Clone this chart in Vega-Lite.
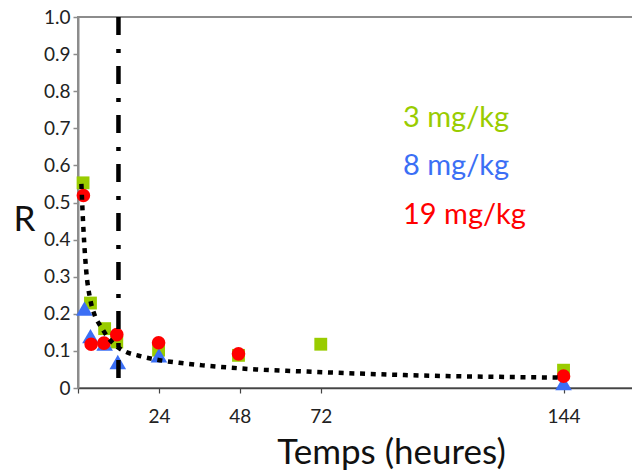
{
  "$schema": "https://vega.github.io/schema/vega-lite/v6.json",
  "width": 555,
  "height": 371,
  "autosize": "none",
  "padding": {"left": 78, "top": 17, "right": 0, "bottom": 82},
  "background": "white",
  "config": {
    "view": {"stroke": "#8c8c8c", "strokeWidth": 2},
    "font": "Lato",
    "axisX": {
      "labelOverlap": false,
      "grid": false,
      "domainColor": "#444", "domainWidth": 1.5,
      "tickColor": "#444", "tickSize": 5, "tickWidth": 1.2,
      "labelFont": "Lato", "labelFontSize": 19, "labelColor": "#222",
      "labelPadding": 14,
      "titleFont": "Lato", "titleFontSize": 35, "titleFontWeight": "normal",
      "titleColor": "#111",
      "titleX": 313, "titleY": 75, "titleAlign": "center", "titleBaseline": "alphabetic"
    },
    "axisY": {
      "labelOverlap": false,
      "grid": false,
      "domainColor": "#8c8c8c", "domainWidth": 2,
      "tickColor": "#8c8c8c", "tickSize": 5, "tickWidth": 1.5,
      "labelFont": "Lato", "labelFontSize": 19, "labelColor": "#222",
      "labelPadding": 3,
      "titleFont": "Lato", "titleFontSize": 35, "titleFontWeight": "normal",
      "titleColor": "#111",
      "titleAngle": 0, "titleX": -54, "titleY": 213,
      "titleAlign": "center", "titleBaseline": "alphabetic"
    }
  },
  "datasets": {
    "points": [
      {"t": 1.5, "r": 0.553, "dose": "3 mg/kg"},
      {"t": 3.7, "r": 0.229, "dose": "3 mg/kg"},
      {"t": 7.9, "r": 0.16, "dose": "3 mg/kg"},
      {"t": 11.5, "r": 0.124, "dose": "3 mg/kg"},
      {"t": 23.9, "r": 0.102, "dose": "3 mg/kg"},
      {"t": 47.6, "r": 0.088, "dose": "3 mg/kg"},
      {"t": 72, "r": 0.118, "dose": "3 mg/kg"},
      {"t": 144, "r": 0.048, "dose": "3 mg/kg"},
      {"t": 1.9, "r": 0.214, "dose": "8 mg/kg"},
      {"t": 3.7, "r": 0.14, "dose": "8 mg/kg"},
      {"t": 7.9, "r": 0.12, "dose": "8 mg/kg"},
      {"t": 11.8, "r": 0.07, "dose": "8 mg/kg"},
      {"t": 24, "r": 0.088, "dose": "8 mg/kg"},
      {"t": 144, "r": 0.013, "dose": "8 mg/kg"},
      {"t": 1.6, "r": 0.519, "dose": "19 mg/kg"},
      {"t": 3.9, "r": 0.118, "dose": "19 mg/kg"},
      {"t": 7.7, "r": 0.121, "dose": "19 mg/kg"},
      {"t": 11.5, "r": 0.144, "dose": "19 mg/kg"},
      {"t": 23.9, "r": 0.122, "dose": "19 mg/kg"},
      {"t": 47.6, "r": 0.092, "dose": "19 mg/kg"},
      {"t": 144, "r": 0.032, "dose": "19 mg/kg"}
    ],
    "curve": [
      {"t": 1.0, "r": 0.55},
      {"t": 1.6, "r": 0.43},
      {"t": 2.4, "r": 0.32},
      {"t": 3.7, "r": 0.236},
      {"t": 5, "r": 0.195},
      {"t": 6.9, "r": 0.164},
      {"t": 9, "r": 0.135},
      {"t": 11.8, "r": 0.11},
      {"t": 14.3, "r": 0.097},
      {"t": 18, "r": 0.087},
      {"t": 24.2, "r": 0.075},
      {"t": 30, "r": 0.068},
      {"t": 37, "r": 0.061},
      {"t": 45, "r": 0.055},
      {"t": 52.8, "r": 0.05},
      {"t": 65.7, "r": 0.045},
      {"t": 80, "r": 0.04},
      {"t": 105, "r": 0.033},
      {"t": 125, "r": 0.03},
      {"t": 143, "r": 0.028}
    ],
    "marker": [
      {"t": 12, "r": 1.0, "r_bottom": 0.013}
    ]
  },
  "encoding": {
    "x": {
      "field": "t", "type": "quantitative",
      "scale": {"domain": [0, 164.6], "nice": false, "zero": false},
      "axis": {
        "values": [0, 24, 48, 72, 144],
        "labelExpr": "datum.value == 0 ? '' : datum.label",
        "title": "Temps (heures)"
      }
    },
    "y": {
      "field": "r", "type": "quantitative",
      "scale": {"domain": [0, 1], "nice": false},
      "axis": {
        "values": [0, 0.1, 0.2, 0.3, 0.4, 0.5, 0.6, 0.7, 0.8, 0.9, 1.0],
        "labelOverlap": false,
        "labelExpr": "datum.value == 0 ? '0' : format(datum.value, '.1f')",
        "title": "R"
      }
    }
  },
  "layer": [
    {
      "data": {"name": "points"},
      "mark": {"type": "point", "filled": true, "opacity": 1},
      "encoding": {
        "color": {
          "field": "dose", "type": "nominal",
          "scale": {
            "domain": ["3 mg/kg", "8 mg/kg", "19 mg/kg"],
            "range": ["#99CC00", "#3B6FF5", "#FF0000"]
          },
          "legend": {
            "title": null,
            "orient": "none",
            "legendX": 296,
            "legendY": 86,
            "padding": 0,
            "symbolOpacity": 0,
            "symbolSize": 0,
            "symbolStrokeWidth": 0,
            "labelOffset": 0,
            "labelFont": "Lato",
            "labelFontSize": 29,
            "labelLimit": 300,
            "rowPadding": 18.5,
            "encode": {
              "labels": {"update": {"fill": {"scale": "color", "field": "value"}}}
            }
          }
        },
        "shape": {
          "field": "dose", "type": "nominal",
          "scale": {
            "domain": ["3 mg/kg", "8 mg/kg", "19 mg/kg"],
            "range": ["square", "triangle-up", "circle"]
          },
          "legend": null
        },
        "size": {
          "field": "dose", "type": "nominal",
          "scale": {
            "type": "ordinal",
            "domain": ["3 mg/kg", "8 mg/kg", "19 mg/kg"],
            "range": [165, 275, 185]
          },
          "legend": null
        }
      }
    },
    {
      "data": {"name": "marker"},
      "mark": {"type": "rule", "color": "black", "strokeWidth": 4.5, "strokeDash": [18, 14, 4, 13], "strokeCap": "butt"},
      "encoding": {
        "y2": {"field": "r_bottom"}
      }
    },
    {
      "data": {"name": "curve"},
      "mark": {"type": "line", "color": "black", "strokeWidth": 4.5, "strokeDash": [5, 5.7], "strokeCap": "butt", "interpolate": "monotone"},
      "encoding": {}
    }
  ]
}
